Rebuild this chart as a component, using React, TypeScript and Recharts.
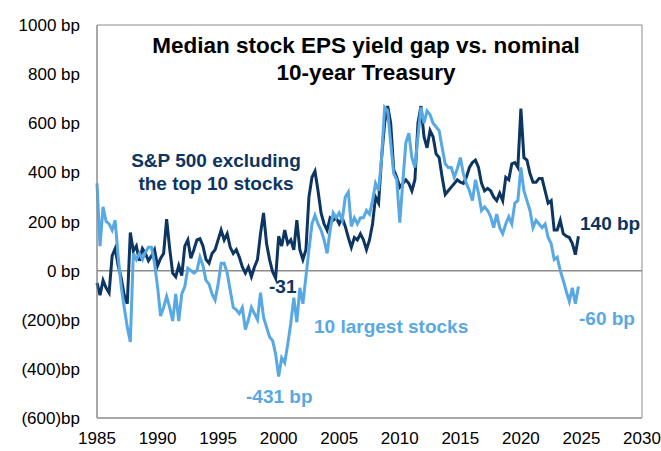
import {
  Line,
  LineChart,
  ReferenceArea,
  ReferenceLine,
  XAxis,
  YAxis,
} from "recharts";

const FONT = "Arial, 'Liberation Sans', sans-serif";
const NAVY = "#0c3561";
const LIGHT = "#58a8e3";
const FRAME = "#8c8c8c";

// quarterly observations, first one at 1985.0
const START_YEAR = 1985;
const STEP = 0.25;

// S&P 500 excluding the top 10 stocks (bp)
const exTop10 = [
  -50, -100, -40, -70,
  -90, 60, 90, 20,
  -30, -100, -135, 155,
  80, 100, 40, 90,
  70, 40, 60, 85,
  20, 50, 70, 210,
  90, -10, -25, 20,
  -20, 100, 125, 50,
  85, 125, 130, 100,
  45, 30, 70, 85,
  125, 165, 125, 150,
  95, 70, 85, 55,
  15, -10, 15, -25,
  15, 45, 150, 235,
  110, 45, -5, -31,
  140, 100, 165, 110,
  125, 85, 205, 85,
  45, 85, 300, 380,
  405, 325, 235, 190,
  165, 215, 205, 215,
  190, 215, 180, 135,
  95, 135, 125, 150,
  125, 85, 125, 190,
  300, 275, 460, 600,
  670, 600, 410, 380,
  340, 355, 370, 355,
  325, 370, 600, 670,
  545, 500, 570, 545,
  475, 460, 380, 310,
  325, 340, 355, 370,
  360, 355, 380, 420,
  440, 450, 420, 355,
  325, 335, 325, 300,
  285, 315, 285, 380,
  370, 435, 440, 420,
  660, 460, 450, 395,
  360, 360, 375, 375,
  325, 275, 285, 165,
  165, 205, 150, 140,
  135, 110, 65, 140,
];

// 10 largest stocks (bp)
const top10 = [
  355, 100, 260, 200,
  190, 165, 205, 55,
  -65, -150, -230, -290,
  70, 45, 70, 45,
  75, 95, 95, 30,
  -65, -185, -150, -105,
  -150, -205, -95, -205,
  -95, -65, 10, 0,
  -10, 0, 55, 20,
  -40, -55, -95, -120,
  -55, 30, 30, -10,
  -80, -150, -160, -175,
  -150, -240, -200, -150,
  -175, -200, -90, -190,
  -230, -270, -285, -340,
  -431, -355, -375, -300,
  -215, -110, -210, -70,
  -135, -25, 85, 190,
  225, 190, 165, 125,
  70, 165, 235, 215,
  235, 205, 300, 320,
  180, 215, 190, 215,
  215, 245, 230, 285,
  355, 325, 460, 665,
  650, 520, 395, 370,
  195, 360, 520, 560,
  460, 420, 545, 665,
  600, 650, 635, 600,
  585, 570, 500, 435,
  420, 420, 380, 415,
  460, 395, 355, 325,
  285, 370, 315, 245,
  260, 245, 220, 175,
  230, 175, 150, 190,
  220, 190, 275, 285,
  420, 325, 285, 245,
  175, 205, 190, 175,
  190, 135, 110, 45,
  55, 0, -40, -85,
  -125, -70, -135, -65,
];

const xTicks = [1985, 1990, 1995, 2000, 2005, 2010, 2015, 2020, 2025, 2030];
const yTicks = [-600, -400, -200, 0, 200, 400, 600, 800, 1000];

const data = exTop10.map((v, i) => ({
  year: START_YEAR + i * STEP,
  exTop10: v,
  top10: top10[i],
}));

function fmtBp(v: number) {
  return v < 0 ? `(${-v})bp` : `${v} bp`;
}

export default function App() {
  return (
    <div
      style={{
        position: "absolute",
        left: 0,
        top: 0,
        width: 661,
        height: 451,
        background: "#fff",
        fontFamily: FONT,
      }}
    >
      <LineChart
        width={661}
        height={451}
        data={data}
        margin={{ top: 25, right: 19, bottom: 0, left: 0 }}
      >
        <XAxis
          dataKey="year"
          type="number"
          domain={[1985, 2030]}
          ticks={xTicks}
          interval={0}
          height={33}
          tickLine={false}
          axisLine={{ stroke: FRAME }}
          tickMargin={8}
          tick={{ fill: "#000", fontSize: 17, fontFamily: FONT }}
        />
        <YAxis
          type="number"
          domain={[-600, 1000]}
          ticks={yTicks}
          interval={0}
          width={97}
          tickLine={false}
          axisLine={{ stroke: FRAME }}
          tickMargin={11}
          tickFormatter={fmtBp}
          tick={{ fill: "#000", fontSize: 17, fontFamily: FONT }}
        />
        <ReferenceArea
          x1={1985}
          x2={2030}
          y1={-600}
          y2={1000}
          fill="none"
          stroke={FRAME}
          strokeWidth={1}
          ifOverflow="visible"
        />
        <ReferenceLine y={0} stroke={FRAME} strokeWidth={1.5} />
        <Line
          type="linear"
          dataKey="exTop10"
          stroke={NAVY}
          strokeWidth={3}
          dot={false}
          isAnimationActive={false}
        />
        <Line
          type="linear"
          dataKey="top10"
          stroke={LIGHT}
          strokeWidth={3}
          dot={false}
          isAnimationActive={false}
        />
      </LineChart>
      <svg
        width={661}
        height={451}
        style={{ position: "absolute", left: 0, top: 0, pointerEvents: "none" }}
      >
        <g fontFamily={FONT} fontWeight="bold">
          <text x={366} y={53} fontSize={22.5} textAnchor="middle" fill="#000">
            Median stock EPS yield gap vs. nominal
          </text>
          <text x={366} y={80} fontSize={22.5} textAnchor="middle" fill="#000">
            10-year Treasury
          </text>
          <text x={216} y={167} fontSize={19} textAnchor="middle" fill={NAVY}>
            S&amp;P 500 excluding
          </text>
          <text x={216} y={190} fontSize={19} textAnchor="middle" fill={NAVY}>
            the top 10 stocks
          </text>
          <text x={314} y={333} fontSize={19} fill={LIGHT}>
            10 largest stocks
          </text>
          <text x={246} y={403} fontSize={19} fill={LIGHT}>
            -431 bp
          </text>
          <text x={269} y={293} fontSize={19} fill={NAVY}>
            -31
          </text>
          <text x={580} y={230} fontSize={19} fill={NAVY}>
            140 bp
          </text>
          <text x={579} y={325} fontSize={19} fill={LIGHT}>
            -60 bp
          </text>
        </g>
      </svg>
    </div>
  );
}
